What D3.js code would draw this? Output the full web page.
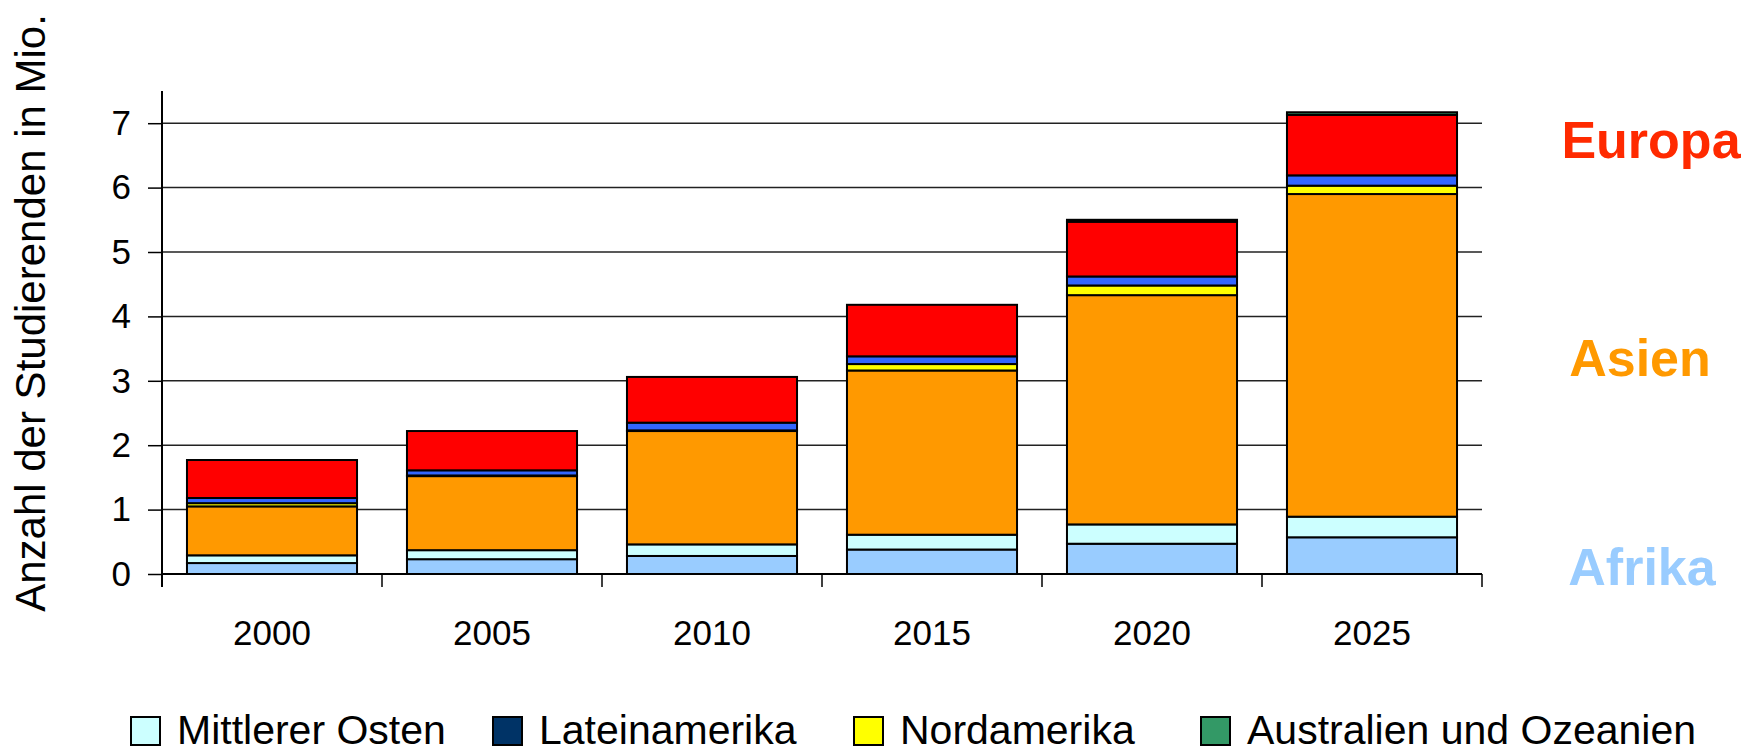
<!DOCTYPE html>
<html>
<head>
<meta charset="utf-8">
<script src="https://cdn.jsdelivr.net/npm/d3@7"></script>
<style>
  body { margin: 0; background: #fff; }
  svg { display: block; font-family: "Liberation Sans", Arial, sans-serif; }
</style>
</head>
<body>
<svg></svg>
<script>
const width = 1746
const height = 753

// data (Mio. Studierende)
const years = ["2000", "2005", "2010", "2015", "2020", "2025"]
const afrika = [0.17, 0.23, 0.28, 0.38, 0.47, 0.57]
const mittlererOsten = [0.12, 0.14, 0.18, 0.23, 0.30, 0.32]
const asien = [0.76, 1.15, 1.76, 2.55, 3.56, 5.01]
const nordamerika = [0.05, 0.01, 0.01, 0.10, 0.15, 0.13]
const lateinamerika = [0.08, 0.08, 0.12, 0.12, 0.14, 0.16]
const europa = [0.59, 0.61, 0.71, 0.80, 0.85, 0.94]
const australien = [0.00, 0.00, 0.00, 0.00, 0.03, 0.04]

const seriesKeys = ["Afrika", "Mittlerer Osten", "Asien", "Nordamerika", "Lateinamerika", "Europa", "Australien und Ozeanien"]
const seriesColors = ["#99ccff", "#ccffff", "#ff9900", "#ffff00", "#3366ff", "#ff0000", "#339966"]

const yTicks = [0, 1, 2, 3, 4, 5, 6, 7]

const legendNames = ["Mittlerer Osten", "Lateinamerika", "Nordamerika", "Australien und Ozeanien"]
const legendColors = ["#ccffff", "#003366", "#ffff00", "#339966"]

const sideNames = ["Europa", "Asien", "Afrika"]
const sideColors = ["#ff2a00", "#ff9900", "#99ccff"]

draw()

function draw() {
  const svg = d3.select("svg")
    .attr("width", width)
    .attr("height", height)

  const left = 162, right = 1482, top = 91, bottom = 574

  const table = years.map(function (y, i) {
    return {
      year: y,
      "Afrika": afrika[i],
      "Mittlerer Osten": mittlererOsten[i],
      "Asien": asien[i],
      "Nordamerika": nordamerika[i],
      "Lateinamerika": lateinamerika[i],
      "Europa": europa[i],
      "Australien und Ozeanien": australien[i]
    }
  })

  const x = d3.scaleBand()
    .domain(years)
    .range([left, right])
    .paddingInner(0.227)
    .paddingOuter(0.1135)

  const y = d3.scaleLinear()
    .domain([0, 7.5])
    .range([bottom, top])

  // gridlines
  svg.append("g")
    .selectAll("line")
    .data(yTicks)
    .enter()
    .append("line")
    .attr("x1", left)
    .attr("x2", right)
    .attr("y1", d => y(d))
    .attr("y2", d => y(d))
    .attr("stroke", d => d == 0 ? "#000" : "#222")
    .attr("stroke-width", d => d == 0 ? 2 : 1.5)

  // y axis
  const yAxis = svg.append("g")
    .attr("transform", "translate(" + left + ",0)")
    .call(d3.axisLeft(y).tickValues(yTicks).tickSize(14).tickPadding(17))
  yAxis.select(".domain").remove()
  yAxis.selectAll(".tick line").attr("stroke", "#000").attr("stroke-width", 1.5)
  yAxis.selectAll("text")
    .attr("font-size", 35)
    .attr("fill", "#000")
    .attr("font-family", "'Liberation Sans', Arial, sans-serif")

  svg.append("line")
    .attr("x1", left).attr("x2", left)
    .attr("y1", top).attr("y2", bottom + 13)
    .attr("stroke", "#000")
    .attr("stroke-width", 2)

  // x axis: ticks on category boundaries
  const step = (right - left) / years.length
  const bounds = d3.range(years.length + 1).map(i => left + i * step)
  svg.append("g")
    .selectAll("line")
    .data(bounds)
    .enter()
    .append("line")
    .attr("x1", d => d)
    .attr("x2", d => d)
    .attr("y1", bottom)
    .attr("y2", bottom + 13)
    .attr("stroke", "#000")
    .attr("stroke-width", 1.5)

  svg.append("g")
    .selectAll("text")
    .data(years)
    .enter()
    .append("text")
    .attr("x", d => x(d) + x.bandwidth() / 2)
    .attr("y", 645)
    .attr("text-anchor", "middle")
    .attr("font-size", 35)
    .text(d => d)

  // stacked bars
  const stack = d3.stack().keys(seriesKeys)(table)
  svg.append("g")
    .selectAll("g")
    .data(stack)
    .enter()
    .append("g")
    .attr("fill", (d, i) => seriesColors[i])
    .selectAll("rect")
    .data(d => d)
    .enter()
    .append("rect")
    .filter(d => d[1] - d[0] > 0)
    .attr("x", d => x(d.data.year))
    .attr("width", x.bandwidth())
    .attr("y", d => y(d[1]))
    .attr("height", d => y(d[0]) - y(d[1]))
    .attr("stroke", "#000")
    .attr("stroke-width", 2)

  // y title
  svg.append("text")
    .attr("transform", "translate(45,313) rotate(-90)")
    .attr("text-anchor", "middle")
    .attr("font-size", 42)
    .text("Anzahl der Studierenden in Mio.")

  // region labels on the right
  const sideX = [1651, 1640, 1642]
  const sideY = [158, 376, 585]
  svg.append("g")
    .selectAll("text")
    .data(sideNames)
    .enter()
    .append("text")
    .attr("x", (d, i) => sideX[i])
    .attr("y", (d, i) => sideY[i])
    .attr("text-anchor", "middle")
    .attr("font-size", 52)
    .attr("font-weight", "bold")
    .attr("fill", (d, i) => sideColors[i])
    .text(d => d)

  // legend
  const legendX = [130, 492, 853, 1200]
  const item = svg.append("g")
    .selectAll("g")
    .data(legendNames)
    .enter()
    .append("g")
    .attr("transform", (d, i) => "translate(" + legendX[i] + ",716)")
  item.append("rect")
    .attr("x", 1)
    .attr("y", 1)
    .attr("width", 29)
    .attr("height", 28)
    .attr("fill", (d, i) => legendColors[i])
    .attr("stroke", "#000")
    .attr("stroke-width", 2)
  item.append("text")
    .attr("x", 47)
    .attr("y", 28)
    .attr("font-size", 41)
    .text(d => d)
}
</script>
</body>
</html>
